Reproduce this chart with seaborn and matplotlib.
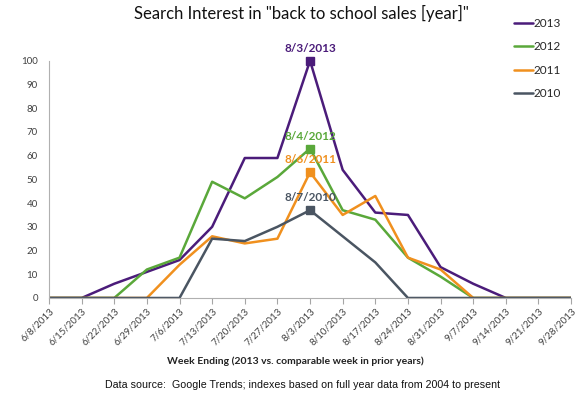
import pandas as pd
import numpy as np
import matplotlib
matplotlib.use("Agg")
import matplotlib.pyplot as plt
import seaborn as sns

weeks = ["6/8/2013", "6/15/2013", "6/22/2013", "6/29/2013", "7/6/2013", "7/13/2013",
         "7/20/2013", "7/27/2013", "8/3/2013", "8/10/2013", "8/17/2013", "8/24/2013",
         "8/31/2013", "9/7/2013", "9/14/2013", "9/21/2013", "9/28/2013"]
s2013 = [0, 0, 6, 11, 16, 30, 59, 59, 100, 54, 36, 35, 13, 6, 0, 0, 0]
s2012 = [0, 0, 0, 12, 17, 49, 42, 51, 63, 37, 33, 17, 9, 0, 0, 0, 0]
s2011 = [0, 0, 0, 0, 14, 26, 23, 25, 53, 35, 43, 17, 12, 0, 0, 0, 0]
s2010 = [0, 0, 0, 0, 0, 25, 24, 30, 37, 26, 15, 0, 0, 0, 0, 0, 0]
years = ["2013", "2012", "2011", "2010"]
peak_labels = ["8/3/2013", "8/4/2012", "8/6/2011", "8/7/2010"]
colors = ["#4b1c7a", "#5aa83a", "#f0901e", "#4a5562"]

sns.set_style("white")
plt.rcParams["font.family"] = ["Lato", "DejaVu Sans"]

rows = []
for yr, vals in zip(years, [s2013, s2012, s2011, s2010]):
    for i, v in enumerate(vals):
        rows.append({"pos": i, "year": yr, "value": v})
df = pd.DataFrame(rows)

fig = plt.figure(figsize=(5.81, 3.97), dpi=100)
ax = fig.add_axes([0.0843, 0.2494, 0.8987, 0.5976])

sns.lineplot(data=df, x="pos", y="value", hue="year", hue_order=years,
             palette=colors, linewidth=1.8, ax=ax, legend=True)

# peak markers and labels
peak_i = weeks.index("8/3/2013")
for yr, vals, lab, c in zip(years, [s2013, s2012, s2011, s2010], peak_labels, colors):
    ax.plot(peak_i, vals[peak_i], marker="s", markersize=5.5, color=c, clip_on=False, zorder=5)
    ax.annotate(lab, (peak_i, vals[peak_i]), xytext=(0, 9), textcoords="offset points",
                ha="center", va="center", color=c, fontsize=8.5, fontweight="bold")

ax.set_xlim(0, len(weeks) - 1)
ax.set_ylim(0, 100)
ax.set_yticks(range(0, 101, 10))
ax.set_xticks(range(len(weeks)))
ax.set_xticklabels(weeks, rotation=45, ha="right", rotation_mode="anchor")
ax.tick_params(axis="x", length=4, width=0.8, color="#a6a6a6", labelsize=7,
               labelcolor="#404040", pad=2, direction="out", bottom=True)
ax.tick_params(axis="y", length=0, labelsize=7, labelcolor="#404040", pad=8)
for side in ["top", "right"]:
    ax.spines[side].set_visible(False)
for side in ["left", "bottom"]:
    ax.spines[side].set_color("#b0b0b0")
    ax.spines[side].set_linewidth(0.8)

ax.set_ylabel("")
ax.set_xlabel("Week Ending (2013 vs. comparable week in prior years)", fontsize=7.5,
              fontweight="bold", color="#222222")
ax.xaxis.set_label_coords(0.471, -0.265)
ax.xaxis.label.set_va("center")

leg = ax.legend(loc="upper left", bbox_to_anchor=(0.87, 1.225), frameon=False,
                fontsize=8.5, handlelength=1.6, handletextpad=0.1, labelspacing=1.05)

fig.text(0.518, 0.965, 'Search Interest in "back to school sales [year]"',
         ha="center", va="center", fontsize=12, color="#111111")
fig.text(0.5215, 0.03, "Data source:  Google Trends; indexes based on full year data from 2004 to present",
         ha="center", va="center", fontsize=7.7, family="Liberation Sans", color="#111111")

fig.savefig("out.png", dpi=100)
